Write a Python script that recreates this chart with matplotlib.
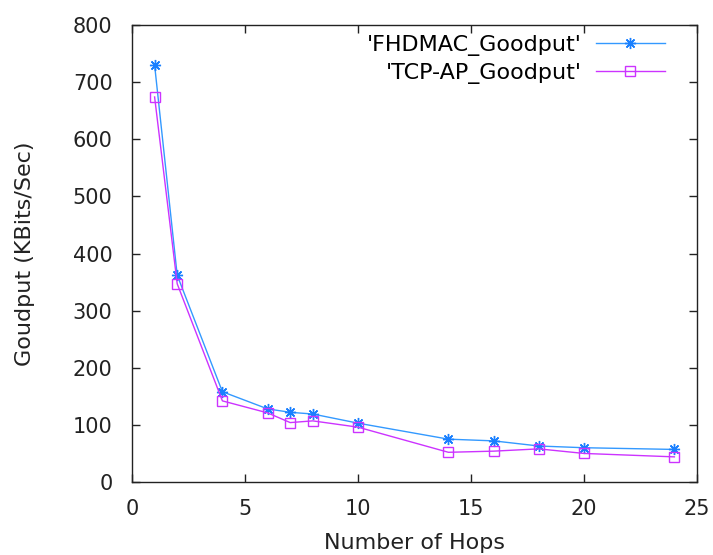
import matplotlib
matplotlib.use("Agg")
import matplotlib.pyplot as plt

hops = [1, 2, 4, 6, 7, 8, 10, 14, 16, 18, 20, 24]
fhdmac = [730, 362, 158, 128, 122, 119, 103, 75, 72, 63, 60, 57]
tcpap = [674, 347, 142, 121, 104, 107, 96, 52, 54, 58, 50, 44]
xticks = [0, 5, 10, 15, 20, 25]
yticks = [0, 100, 200, 300, 400, 500, 600, 700, 800]

plt.rcParams['font.family'] = ['DejaVu Sans']
fig = plt.figure(figsize=(7.13, 5.55), dpi=100)
ax = fig.add_axes([132/713, 1-482/555, (697-132)/713, (482-25)/555])

ax.plot(hops, fhdmac, color='#3399ff', lw=1.0, marker=(8, 2, 0), ms=8,
        mec='#1a80ff', mew=1.0, label="'FHDMAC_Goodput'")
ax.plot(hops, tcpap, color='#cc33ff', lw=1.0, marker='s', ms=7,
        mfc='none', mec='#cc33ff', mew=1.0, label="'TCP-AP_Goodput'")

ax.set_xlim(0, 25)
ax.set_ylim(0, 800)
ax.set_xticks(xticks)
ax.set_yticks(yticks)
ax.tick_params(direction='in', length=6, width=1, top=True, right=True,
               labelsize=15, colors='#222222')
ax.tick_params(axis='x', pad=12)
ax.tick_params(axis='y', pad=14)
for s in ax.spines.values():
    s.set_linewidth(1.0)
    s.set_color('#222222')

ax.set_xlabel('Number of Hops', fontsize=16, labelpad=10, color='#222222')
ax.set_ylabel('Goudput (KBits/Sec)', fontsize=16, labelpad=27, color='#222222')

ax.legend(loc='upper right', bbox_to_anchor=(0.943, 0.978), frameon=False,
          markerfirst=False, handlelength=3.1, fontsize=16,
          labelspacing=0.30, handletextpad=0.62, borderaxespad=0.0,
          borderpad=0.0)

fig.savefig('out.png', dpi=100)
